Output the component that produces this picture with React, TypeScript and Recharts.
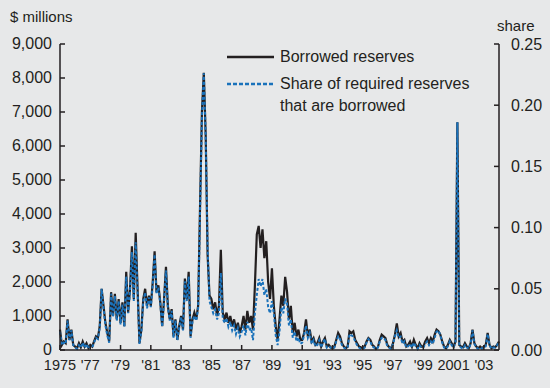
import { LineChart, Line, XAxis, YAxis } from "recharts";

const INK = "#231f20";
const BLUE = "#1a72bb";
const BG = "#e7e8e9";
const FONT = "'Liberation Sans', Arial, sans-serif";

// readings every 1/8 year, 1975.0 through 2004.0
const START_YEAR = 1975;
const STEPS_PER_YEAR = 8;

const xTicks = [1975, 1977, 1979, 1981, 1983, 1985, 1987, 1989, 1991, 1993, 1995, 1997, 1999, 2001, 2003];
const leftTicks = [0, 1000, 2000, 3000, 4000, 5000, 6000, 7000, 8000, 9000];
const rightTicks = [0, 0.05, 0.1, 0.15, 0.2, 0.25];

// borrowed reserves, $ millions
const borrowed = [
  600, 150, 250, 200, 900, 300, 600, 150, // 1975
  100, 50, 200, 80, 250, 100, 200, 60, // 1976
  150, 100, 250, 400, 350, 700, 1800, 1300, // 1977
  800, 500, 250, 1700, 1000, 1650, 900, 1500, // 1978
  800, 1400, 700, 2300, 1100, 1800, 3050, 1500, // 1979
  3450, 1800, 200, 600, 1500, 1800, 1300, 1600, // 1980
  1300, 2000, 2900, 1700, 1900, 1400, 700, 1500, // 1981
  2450, 1300, 900, 1200, 400, 900, 300, 700, // 1982
  1000, 600, 2100, 1500, 2300, 400, 900, 1100, // 1983
  900, 1300, 4200, 7000, 8150, 6300, 2800, 1600, // 1984
  1500, 1200, 1400, 1000, 1300, 2950, 1100, 900, // 1985
  1100, 800, 1000, 700, 900, 600, 800, 500, // 1986
  700, 1000, 600, 1150, 800, 1000, 600, 1900, // 1987
  3400, 3650, 3000, 3550, 2700, 3200, 2000, 1500, // 1988
  2400, 1300, 700, 300, 900, 1600, 1300, 2150, // 1989
  1700, 900, 1300, 500, 800, 400, 600, 300, // 1990
  300, 500, 900, 400, 600, 250, 350, 150, // 1991
  200, 350, 100, 250, 350, 100, 150, 80, // 1992
  50, 100, 300, 500, 400, 200, 100, 50, // 1993
  100, 550, 500, 550, 300, 200, 100, 80, // 1994
  50, 100, 250, 350, 300, 150, 100, 30, // 1995
  80, 300, 450, 400, 350, 150, 80, 50, // 1996
  200, 450, 780, 400, 500, 250, 300, 100, // 1997
  150, 250, 100, 300, 150, 50, 200, 100, // 1998
  100, 250, 350, 200, 350, 250, 450, 600, // 1999
  550, 450, 250, 100, 50, 150, 300, 200, // 2000
  100, 250, 6700, 150, 100, 80, 200, 100, // 2001
  50, 200, 600, 200, 100, 50, 100, 50, // 2002
  100, 150, 500, 150, 50, 100, 80, 150, // 2003
  250, // 2004
];

// share of required reserves that are borrowed
const share = [
  0.015, 0.004, 0.006, 0.005, 0.024, 0.008, 0.016, 0.004, // 1975
  0.002, 0.001, 0.004, 0.002, 0.006, 0.002, 0.005, 0.001, // 1976
  0.003, 0.002, 0.006, 0.01, 0.009, 0.018, 0.05, 0.034, // 1977
  0.02, 0.012, 0.006, 0.046, 0.027, 0.044, 0.024, 0.04, // 1978
  0.021, 0.037, 0.019, 0.06, 0.03, 0.048, 0.08, 0.04, // 1979
  0.088, 0.048, 0.005, 0.015, 0.04, 0.047, 0.034, 0.043, // 1980
  0.035, 0.053, 0.078, 0.046, 0.051, 0.038, 0.019, 0.04, // 1981
  0.065, 0.035, 0.024, 0.032, 0.01, 0.024, 0.008, 0.018, // 1982
  0.027, 0.016, 0.056, 0.04, 0.06, 0.01, 0.023, 0.028, // 1983
  0.024, 0.034, 0.112, 0.19, 0.226, 0.175, 0.085, 0.04, // 1984
  0.035, 0.03, 0.033, 0.025, 0.03, 0.063, 0.026, 0.022, // 1985
  0.026, 0.019, 0.023, 0.016, 0.02, 0.013, 0.018, 0.011, // 1986
  0.015, 0.02, 0.012, 0.023, 0.016, 0.018, 0.008, 0.03, // 1987
  0.045, 0.058, 0.052, 0.058, 0.045, 0.05, 0.035, 0.03, // 1988
  0.04, 0.03, 0.012, 0.004, 0.015, 0.035, 0.03, 0.042, // 1989
  0.038, 0.02, 0.025, 0.01, 0.015, 0.007, 0.01, 0.005, // 1990
  0.006, 0.012, 0.02, 0.01, 0.014, 0.005, 0.008, 0.003, // 1991
  0.004, 0.008, 0.002, 0.006, 0.009, 0.002, 0.003, 0.002, // 1992
  0.001, 0.002, 0.007, 0.011, 0.009, 0.004, 0.002, 0.001, // 1993
  0.002, 0.013, 0.012, 0.011, 0.007, 0.004, 0.002, 0.001, // 1994
  0.001, 0.002, 0.006, 0.009, 0.007, 0.003, 0.002, 0.001, // 1995
  0.002, 0.007, 0.01, 0.01, 0.008, 0.003, 0.002, 0.001, // 1996
  0.005, 0.011, 0.016, 0.01, 0.011, 0.005, 0.007, 0.002, // 1997
  0.003, 0.005, 0.002, 0.006, 0.003, 0.001, 0.004, 0.002, // 1998
  0.002, 0.005, 0.007, 0.004, 0.007, 0.005, 0.01, 0.015, // 1999
  0.016, 0.012, 0.006, 0.002, 0.001, 0.003, 0.007, 0.004, // 2000
  0.002, 0.006, 0.186, 0.003, 0.002, 0.001, 0.004, 0.002, // 2001
  0.001, 0.005, 0.016, 0.005, 0.002, 0.001, 0.002, 0.001, // 2002
  0.002, 0.003, 0.013, 0.004, 0.001, 0.002, 0.002, 0.004, // 2003
  0.006, // 2004
];

const data = borrowed.map((value, i) => ({
  date: START_YEAR + i / STEPS_PER_YEAR,
  borrowed: value,
  share: share[i],
}));

const formatYear = (y: number) =>
  y === 1975 || y === 2001 ? String(y) : `'${String(y).slice(2)}`;

const axisCommon = {
  stroke: INK,
  strokeWidth: 1.5,
  tickSize: -5,
  tickLine: { stroke: INK, strokeWidth: 1.5 },
};

export default function App() {
  return (
    <div
      style={{
        position: "absolute",
        left: 0,
        top: 0,
        width: 550,
        height: 388,
        background: BG,
        fontFamily: FONT,
        color: INK,
      }}
    >
      <LineChart
        width={550}
        height={388}
        data={data}
        margin={{ top: 44, right: 0, bottom: 0, left: 0 }}
      >
        <XAxis
          dataKey="date"
          type="number"
          domain={[1975, 2004]}
          ticks={xTicks}
          interval={0}
          tickFormatter={formatYear}
          height={38}
          tickMargin={13}
          tick={{ fill: INK, fontSize: 14.5, fontFamily: FONT, dy: 2 }}
          {...axisCommon}
        />
        <YAxis
          yAxisId="left"
          domain={[0, 9000]}
          ticks={leftTicks}
          interval={0}
          width={60}
          tickMargin={13}
          tickFormatter={(v: number) => v.toLocaleString("en-US")}
          tick={{ fill: INK, fontSize: 16, fontFamily: FONT, dy: -1 }}
          {...axisCommon}
        />
        <YAxis
          yAxisId="right"
          orientation="right"
          domain={[0, 0.25]}
          ticks={rightTicks}
          interval={0}
          width={51}
          tickMargin={17}
          tickFormatter={(v: number) => v.toFixed(2)}
          tick={{ fill: INK, fontSize: 16, fontFamily: FONT }}
          {...axisCommon}
        />
        <Line
          yAxisId="left"
          type="linear"
          dataKey="borrowed"
          stroke={INK}
          strokeWidth={2.2}
          dot={false}
          isAnimationActive={false}
        />
        <Line
          yAxisId="right"
          type="linear"
          dataKey="share"
          stroke={BLUE}
          strokeWidth={2}
          strokeDasharray="3 2"
          dot={false}
          isAnimationActive={false}
        />
      </LineChart>

      {/* axis titles */}
      <div style={{ position: "absolute", left: 10, top: 8, fontSize: 15 }}>$ millions</div>
      <div style={{ position: "absolute", left: 497, top: 17, fontSize: 15 }}>share</div>

      {/* legend */}
      <div style={{ position: "absolute", left: 227, top: 46, fontSize: 16, lineHeight: "22px" }}>
        <div style={{ display: "flex", alignItems: "center" }}>
          <svg width={48} height={22}>
            <line x1={0} y1={11} x2={47} y2={11} stroke={INK} strokeWidth={2.5} />
          </svg>
          <span style={{ marginLeft: 5 }}>Borrowed reserves</span>
        </div>
        <div style={{ display: "flex", alignItems: "flex-start", marginTop: 5 }}>
          <svg width={48} height={22}>
            <line x1={0} y1={11} x2={47} y2={11} stroke={BLUE} strokeWidth={2.5} strokeDasharray="4 2" />
          </svg>
          <span style={{ marginLeft: 5 }}>
            Share of required reserves
            <br />
            that are borrowed
          </span>
        </div>
      </div>
    </div>
  );
}
